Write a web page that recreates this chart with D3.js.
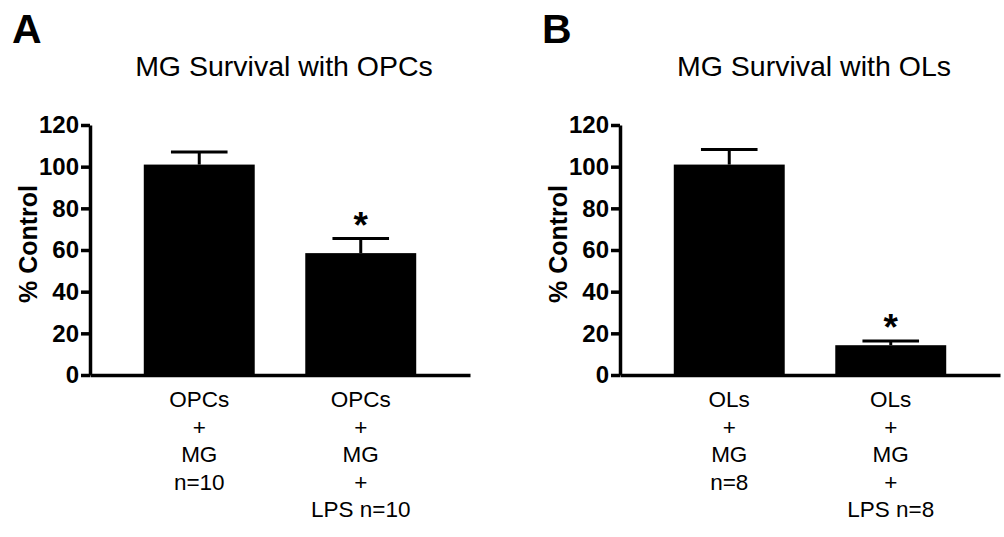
<!DOCTYPE html>
<html>
<head>
<meta charset="utf-8">
<script src="https://cdn.jsdelivr.net/npm/d3@7/dist/d3.min.js"></script>
<style>
  html, body { margin: 0; padding: 0; background: #fff; }
  svg { display: block; }
  text { font-family: "Liberation Sans", Arial, Helvetica, sans-serif; fill: #000; }
</style>
</head>
<body>
<svg id="chart" width="1004" height="537"></svg>
<script>
// ---- Data ----
const panelLetters = ["A", "B"];
const panelTitles = ["MG Survival with OPCs", "MG Survival with OLs"];
const yTicks = [0, 20, 40, 60, 80, 100, 120];
const yLabel = "% Control";

const categoriesA = [["OPCs", "+", "MG", "n=10"], ["OPCs", "+", "MG", "+", "LPS n=10"]];
const meansA = [101, 58.5];
const errorsA = [6, 7];
const significantA = [false, true];

const categoriesB = [["OLs", "+", "MG", "n=8"], ["OLs", "+", "MG", "+", "LPS n=8"]];
const meansB = [101, 14.3];
const errorsB = [7.2, 2];
const significantB = [false, true];

const panels = [
  { letter: panelLetters[0], title: panelTitles[0], cats: categoriesA, means: meansA, errs: errorsA, sig: significantA, x0: 90 },
  { letter: panelLetters[1], title: panelTitles[1], cats: categoriesB, means: meansB, errs: errorsB, sig: significantB, x0: 620 }
];

// ---- Drawing ----
const svg = d3.select("#chart");
const yTop = 125, yBottom = 375, axisLen = 380;

const y = d3.scaleLinear().domain([0, 120]).range([yBottom, yTop]);

panels.forEach(p => {
  const g = svg.append("g");
  const x = d3.scaleBand()
    .domain(d3.range(p.means.length))
    .range([p.x0, p.x0 + axisLen])
    .paddingInner(0.313)
    .paddingOuter(0.333);

  // panel letter
  g.append("text")
    .attr("x", p.x0 - 78)
    .attr("y", 43)
    .style("font-size", "41px")
    .style("font-weight", "bold")
    .text(p.letter);

  // title
  g.append("text")
    .attr("x", p.x0 + 194)
    .attr("y", 76)
    .attr("text-anchor", "middle")
    .style("font-size", "28.5px")
    .text(p.title);

  // bars
  g.selectAll("rect.bar")
    .data(p.means)
    .join("rect")
    .attr("class", "bar")
    .attr("x", (d, i) => x(i))
    .attr("width", x.bandwidth())
    .attr("y", d => y(d))
    .attr("height", d => y(0) - y(d))
    .attr("fill", "#000");

  // error bars
  const capW = x.bandwidth() * 0.51;
  p.means.forEach((m, i) => {
    const cx = x(i) + x.bandwidth() / 2;
    g.append("line")
      .attr("x1", cx).attr("x2", cx)
      .attr("y1", y(m)).attr("y2", y(m + p.errs[i]))
      .attr("stroke", "#000").attr("stroke-width", 3);
    g.append("line")
      .attr("x1", cx - capW / 2).attr("x2", cx + capW / 2)
      .attr("y1", y(m + p.errs[i])).attr("y2", y(m + p.errs[i]))
      .attr("stroke", "#000").attr("stroke-width", 3);
    if (p.sig[i]) {
      g.append("text")
        .attr("x", cx)
        .attr("y", y(m + p.errs[i]) - 1)
        .attr("text-anchor", "middle")
        .style("font-size", "37px")
        .style("font-weight", "bold")
        .text("*");
    }
  });

  // y axis
  const yAxis = g.append("g")
    .attr("transform", `translate(${p.x0},0)`)
    .call(d3.axisLeft(y).tickValues(yTicks).tickSize(9).tickSizeOuter(0).tickPadding(2));
  yAxis.selectAll("path, line").attr("stroke", "#000").attr("stroke-width", 3.5);
  yAxis.selectAll("text")
    .attr("fill", "#000")
    .style("font-family", '"Liberation Sans", Arial, sans-serif')
    .style("font-size", "24px")
    .style("font-weight", "bold");

  // x axis
  const xAxis = g.append("g")
    .attr("transform", `translate(0,${yBottom})`)
    .call(d3.axisBottom(x).tickSize(0).tickSizeOuter(0).tickFormat(""));
  xAxis.selectAll("path").attr("stroke", "#000").attr("stroke-width", 3.5);

  // category labels
  p.cats.forEach((lines, i) => {
    const t = g.append("text")
      .attr("text-anchor", "middle")
      .style("font-size", "22.5px");
    lines.forEach((ln, j) => {
      t.append("tspan")
        .attr("x", x(i) + x.bandwidth() / 2)
        .attr("y", 407 + j * 27.6)
        .text(ln);
    });
  });

  // y label
  g.append("text")
    .attr("transform", `translate(${p.x0 - 53},${(yTop + yBottom) / 2 - 6}) rotate(-90)`)
    .attr("text-anchor", "middle")
    .style("font-size", "25px")
    .style("font-weight", "bold")
    .text(yLabel);
});
</script>
</body>
</html>
